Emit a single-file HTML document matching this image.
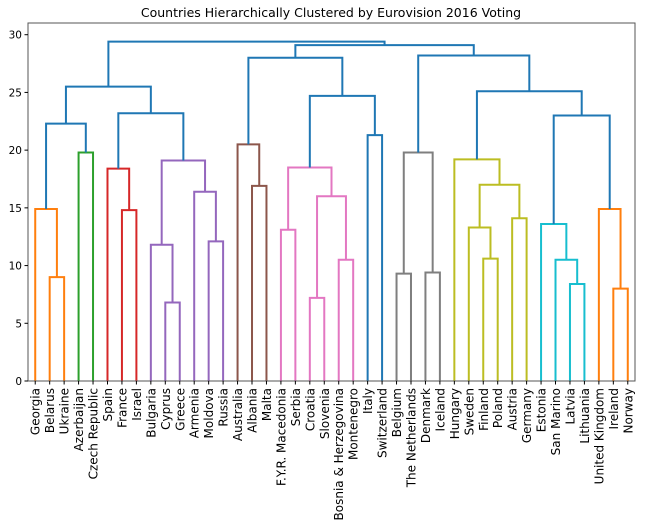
<!DOCTYPE html>
<html><head><meta charset="utf-8"><style>
html,body{margin:0;padding:0;background:#fff;}
svg{display:block;font-family:"DejaVu Sans","Liberation Sans",sans-serif;}
</style></head><body>
<svg id="chart" width="649" height="527" viewBox="0 0 649 527" xmlns="http://www.w3.org/2000/svg">
<text x="331" y="17" text-anchor="middle" font-size="12.5" fill="#000">Countries Hierarchically Clustered by Eurovision 2016 Voting</text>
<g id="links"></g>
<g id="axes"></g>
</svg>
<script>
const leafLabels = ["Georgia","Belarus","Ukraine","Azerbaijan","Czech Republic","Spain","France","Israel","Bulgaria","Cyprus","Greece","Armenia","Moldova","Russia","Australia","Albania","Malta","F.Y.R. Macedonia","Serbia","Croatia","Slovenia","Bosnia & Herzegovina","Montenegro","Italy","Switzerland","Belgium","The Netherlands","Denmark","Iceland","Hungary","Sweden","Finland","Poland","Austria","Germany","Estonia","San Marino","Latvia","Lithuania","United Kingdom","Ireland","Norway"];
const mergeLeft  = [1,0,3,43,6,5,9,8,12,11,49,47,45,15,14,17,19,21,58,57,23,61,56,25,27,65,31,30,33,69,29,37,36,35,40,39,75,72,67,64,54];
const mergeRight = [2,42,4,44,7,46,10,48,13,50,51,52,53,16,55,18,20,22,59,60,24,62,63,26,28,66,32,68,34,70,71,38,73,74,41,76,77,78,79,80,81];
const mergeHeight = [9.0,14.9,19.8,22.3,14.8,18.4,6.8,11.8,12.1,16.4,19.1,23.2,25.5,16.9,20.5,13.1,7.2,10.5,16.0,18.5,21.3,24.7,28.0,9.3,9.4,19.8,10.6,13.3,14.1,17.0,19.2,8.4,10.5,13.6,8.0,14.9,23.0,25.1,28.2,29.1,29.4];
const mergeColor = ["#ff7f0e","#ff7f0e","#2ca02c","#1f77b4","#d62728","#d62728","#9467bd","#9467bd","#9467bd","#9467bd","#9467bd","#1f77b4","#1f77b4","#8c564b","#8c564b","#e377c2","#e377c2","#e377c2","#e377c2","#e377c2","#1f77b4","#1f77b4","#1f77b4","#7f7f7f","#7f7f7f","#7f7f7f","#bcbd22","#bcbd22","#bcbd22","#bcbd22","#bcbd22","#17becf","#17becf","#17becf","#ff7f0e","#ff7f0e","#1f77b4","#1f77b4","#1f77b4","#1f77b4","#1f77b4"];
const yTicks = [0,5,10,15,20,25,30];

const NS="http://www.w3.org/2000/svg";
const L=28,R=635,T=23,B=381,YMAX=30.03;
const n=leafLabels.length;
const xs=v=>L+v*(R-L)/(10*n);
const ys=v=>B-v*(B-34.7)/30;
const svg=document.getElementById('chart');
const gl=document.getElementById('links'), ga=document.getElementById('axes');
const nx=[],nh=[];
for(let i=0;i<n;i++){nx.push(xs(10*i+5));nh.push(0);}
for(let k=0;k<mergeHeight.length;k++){
  const a=mergeLeft[k],b=mergeRight[k],h=mergeHeight[k];
  const p=document.createElementNS(NS,'polyline');
  p.setAttribute('points',`${nx[a]},${ys(nh[a])} ${nx[a]},${ys(h)} ${nx[b]},${ys(h)} ${nx[b]},${ys(nh[b])}`);
  p.setAttribute('fill','none');p.setAttribute('stroke',mergeColor[k]);p.setAttribute('stroke-width','2');
  
  
  gl.appendChild(p);
  nx.push((nx[a]+nx[b])/2);nh.push(h);
}
const fr=document.createElementNS(NS,'rect');
fr.setAttribute('x',L);fr.setAttribute('y',T);fr.setAttribute('width',R-L);fr.setAttribute('height',B-T);
fr.setAttribute('fill','none');fr.setAttribute('stroke','#555');fr.setAttribute('stroke-width','1');


ga.appendChild(fr);
yTicks.forEach(v=>{
  const y=ys(v);
  const t=document.createElementNS(NS,'line');
  t.setAttribute('x1',L-3.5);t.setAttribute('x2',L);t.setAttribute('y1',y);t.setAttribute('y2',y);t.setAttribute('stroke','#000');
  
  
  ga.appendChild(t);
  const tx=document.createElementNS(NS,'text');
  tx.setAttribute('x',L-6);tx.setAttribute('y',y+4);tx.setAttribute('text-anchor','end');tx.setAttribute('font-size','10.5');
  tx.textContent=v;
  
  
  ga.appendChild(tx);
});
leafLabels.forEach((s,i)=>{
  const x=nx[i];
  const t=document.createElementNS(NS,'line');
  t.setAttribute('x1',x);t.setAttribute('x2',x);t.setAttribute('y1',B);t.setAttribute('y2',B+3.5);t.setAttribute('stroke','#000');
  
  
  ga.appendChild(t);
  const tx=document.createElementNS(NS,'text');
  tx.setAttribute('transform',`translate(${x+4.5},${B+7}) rotate(-90)`);
  tx.setAttribute('text-anchor','end');tx.setAttribute('font-size','12');
  tx.textContent=s;
  
  
  ga.appendChild(tx);
});
</script>
</body></html>
